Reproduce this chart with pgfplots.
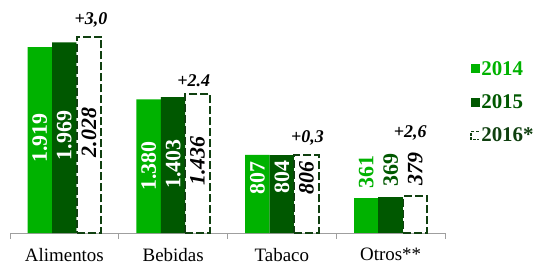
\documentclass[border=0pt]{standalone}
\usepackage{fontspec}
\setmainfont{Liberation Serif}
\usepackage{pgfplots}
\pgfplotsset{compat=1.18}
\usepackage{pgfplotstable}
\definecolor{c14}{RGB}{0,178,0}
\definecolor{c15}{RGB}{0,88,0}
\definecolor{c16}{RGB}{16,64,16}

\pgfplotstableread{
x y ly lab
0 1919 982 {1.919}
1 1380 693 {1.380}
2 807 569 {807}
3 361 626 {361}
}\dA
\pgfplotstableread{
x y ly lab
0 1969 1008 {1.969}
1 1403 713 {1.403}
2 804 574 {804}
3 369 651 {369}
}\dB
\pgfplotstableread{
x y ly lab
0 2028 1039 {2.028}
1 1436 745 {1.436}
2 806 564 {806}
3 379 657 {379}
}\dC
\pgfplotstableread{
x y lab
0.245 2150 {+3,0}
1.19 1510 {+2.4}
2.235 930 {+0,3}
3.18 982 {+2,6}
}\dG

\pgfplotsset{
  vlab/.style n args={3}{
    nodes near coords, point meta=explicit symbolic,
    visualization depends on={\thisrow{ly}-\thisrow{y} \as \dly},
    every node near coord/.append style={shift={(axis direction cs:0,\dly)}, xshift=#3, rotate=90, anchor=center, text=#2, font=#1\fontsize{22}{24}\selectfont, inner sep=0pt}
  },
  first3/.style={skip coords between index={3}{4}},
  last1/.style={skip coords between index={0}{3}, forget plot},
}

\begin{document}
\begin{tikzpicture}
\begin{axis}[
  at={(10bp,34bp)}, anchor=south west,
  scale only axis, width=435bp, height=233bp,
  xmin=-0.5, xmax=3.5, ymin=0, ymax=2407,
  clip=false,
  axis x line=bottom, axis y line=none, ytick=\empty,
  axis line style={-, draw=gray!75, line width=1bp},
  xtick={-0.5,0.5,1.5,2.5,3.5},
  x tick label as interval,
  xticklabels={Alimentos,Bebidas,Tabaco,Otros**},
  tick align=outside, major tick length=6bp,
  tick style={draw=gray!75, line width=1bp},
  xticklabel style={font=\fontsize{19}{22}\selectfont, inner sep=0pt, yshift=-9bp},
  bar width=24.5bp,
  legend style={at={(1.057,0.745)}, anchor=north west, draw=none, fill=none,
    font=\bfseries\fontsize{21}{23}\selectfont, row sep=15bp, inner sep=0pt,
    nodes={inner sep=1.5bp}},
  legend cell align=left,
]
\addplot[ybar, bar shift=-24.5bp, fill=c14, draw=none, first3, vlab={\bfseries}{white}{-24.5bp},
  legend image code/.code={\fill[c14] (0bp,-4.5bp) rectangle (9bp,4.5bp);}]
  table[x=x, y=y, meta=lab] {\dA};
\addlegendentry{\textcolor{c14}{2014}}
\addplot[ybar, bar shift=0bp, fill=c15, draw=none, first3, vlab={\bfseries}{white}{0bp},
  legend image code/.code={\fill[c15] (0bp,-4.5bp) rectangle (9bp,4.5bp);}]
  table[x=x, y=y, meta=lab] {\dB};
\addlegendentry{\textcolor{c15}{2015}}
\addplot[ybar, bar shift=24.5bp, fill=white, draw=c16, line width=2bp, dash pattern=on 8bp off 3bp, vlab={\bfseries\itshape}{black}{24.5bp},
  legend image code/.code={\draw[c16, line width=1.6bp, dash pattern=on 3bp off 1.5bp, fill=none] (8bp,4bp) -- (0bp,4bp) -- (0bp,-4bp) -- (8bp,-4bp);}]
  table[x=x, y=y, meta=lab] {\dC};
\addlegendentry{\textcolor{c16}{2016*}}
\addplot[ybar, bar shift=-24.5bp, fill=c14, draw=none, last1, vlab={\bfseries}{c14}{-24.5bp}]
  table[x=x, y=y, meta=lab] {\dA};
\addplot[ybar, bar shift=0bp, fill=c15, draw=none, last1, vlab={\bfseries}{c15}{0bp}]
  table[x=x, y=y, meta=lab] {\dB};
\addplot[draw=none, mark=none, forget plot, nodes near coords, point meta=explicit symbolic,
  every node near coord/.append style={anchor=base, font=\bfseries\itshape\fontsize{18}{20}\selectfont, inner sep=0pt, text=black}]
  table[x=x, y=y, meta=lab] {\dG};
\end{axis}
\pgfresetboundingbox
\useasboundingbox (0,0) rectangle (537bp,267bp);
\end{tikzpicture}
\end{document}
